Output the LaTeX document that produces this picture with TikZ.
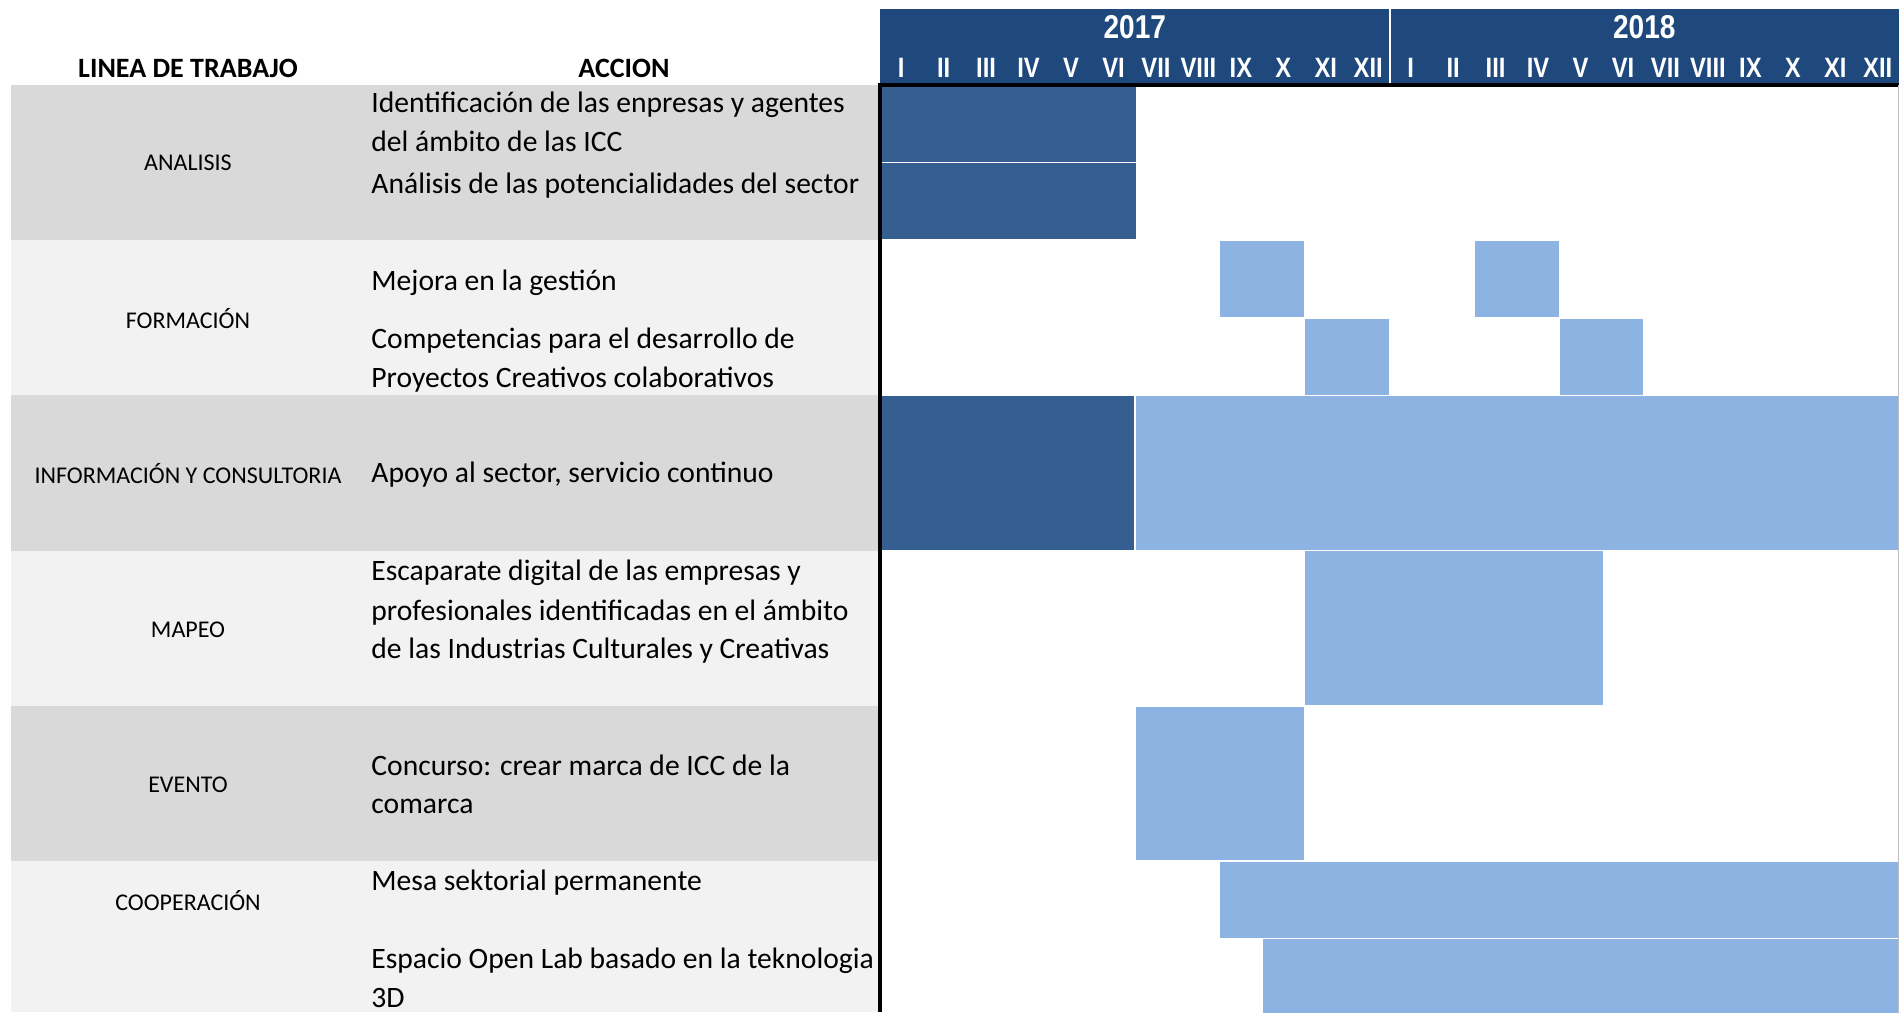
\documentclass[tikz,border=0pt]{standalone}
\usepackage{fontspec}
\setmainfont{Carlito}
\newfontfamily\hdrfont[FakeStretch=0.85]{Liberation Sans}

\definecolor{hdrblue}{HTML}{1F497D}
\definecolor{bardark}{HTML}{365F91}
\definecolor{barlight}{HTML}{8DB3E2}
\definecolor{bandgray}{HTML}{D9D9D9}
\definecolor{bandlight}{HTML}{F2F2F2}

% month -> x, sub-row -> y (pixel units)
\newcommand{\mon}[1]{880+(#1)*42.458}
\newcommand{\rowy}[1]{85+(#1)*77.6}
% style, first month, last month, first sub-row, last sub-row
\newcommand{\gbar}[5]{\path[#1] ({\mon{#2}},{\rowy{#4}}) rectangle ({\mon{#3}},{\rowy{#5}});}

\begin{document}
\begin{tikzpicture}[
    x=0.5pt, y=-0.5pt,
    colhead/.style={font=\fontsize{14}{16}\selectfont\bfseries, inner sep=0pt},
    linea/.style={font=\fontsize{12}{14}\selectfont, inner sep=0pt},
    accion/.style={font=\fontsize{14.8}{17}\selectfont, anchor=base west, inner sep=0pt},
    yearlbl/.style={font=\hdrfont\bfseries\fontsize{16.5}{18}\selectfont, text=white, anchor=base, inner sep=0pt},
    monlbl/.style={font=\hdrfont\bfseries\fontsize{14}{16}\selectfont, text=white, anchor=base, inner sep=0pt},
    darkbar/.style={fill=bardark, draw=white, line width=0.8pt},
    lightbar/.style={fill=barlight, draw=white, line width=0.8pt}
]
\useasboundingbox[fill=white] (0,0) rectangle (1899,1012);

% left bands
\fill[bandgray]  (11,{\rowy{0}}) rectangle ({\mon{0}},{\rowy{2}});
\fill[bandlight] (11,{\rowy{2}}) rectangle ({\mon{0}},{\rowy{4}});
\fill[bandgray]  (11,{\rowy{4}}) rectangle ({\mon{0}},{\rowy{6}});
\fill[bandlight] (11,{\rowy{6}}) rectangle ({\mon{0}},{\rowy{8}});
\fill[bandgray]  (11,{\rowy{8}}) rectangle ({\mon{0}},{\rowy{10}});
\fill[bandlight] (11,{\rowy{10}}) rectangle ({\mon{0}},1012);

% header
\fill[hdrblue] ({\mon{0}},9) rectangle (1899,83);
\draw[white, line width=1pt] ({\mon{12}},9) -- ({\mon{12}},83);
\node[yearlbl] (y2017) at ({\mon{6}},39) {2017};
\node[yearlbl] (y2018) at ({\mon{18}},39) {2018};
\foreach \m [count=\i from 0] in {I,II,III,IV,V,VI,VII,VIII,IX,X,XI,XII} {
  \node[monlbl] (ma\i) at ({\mon{\i+0.5}},77) {\m};
  \node[monlbl] (mb\i) at ({\mon{\i+12.5}},77) {\m};
}

\node[colhead] (linea) at (188,68) {LINEA DE TRABAJO};
\node[colhead] (accion) at (624,68) {ACCION};

% bars
\gbar{darkbar}{0}{6.05}{0}{1}
\gbar{darkbar}{0}{6.05}{1}{2}
\gbar{lightbar}{8}{10}{2}{3}
\gbar{lightbar}{14}{16}{2}{3}
\gbar{lightbar}{10}{12}{3}{4}
\gbar{lightbar}{16}{18}{3}{4}
\gbar{darkbar}{0}{6}{4}{6}
\gbar{lightbar}{6}{24.2}{4}{6}
\gbar{lightbar}{10}{17.05}{6}{8}
\gbar{lightbar}{6}{10}{8}{10}
\gbar{lightbar}{8}{24.2}{10}{11}
\gbar{lightbar}{9}{24.2}{11}{12.2}

% frame
\draw[line width=1.8pt] ({\mon{0}},1012) -- ({\mon{0}},85) -- (1899,85);
\draw[black!25, line width=0.5pt] (1898,85) -- (1898,1012);

% lineas de trabajo
\node[linea] (analisis) at (188,163) {ANALISIS};
\node[linea] (formacion) at (188,319) {FORMACIÓN};
\node[linea] (info) at (188,474) {INFORMACIÓN Y CONSULTORIA};
\node[linea] (mapeo) at (188,630) {MAPEO};
\node[linea] (evento) at (188,785) {EVENTO};
\node[linea] (coop) at (188,901) {COOPERACIÓN};

% acciones
\node[accion] (a1) at (371,112) {Identificación de las enpresas y agentes};
\node[accion] (a2) at (371,151) {del ámbito de las ICC};
\node[accion] (a3) at (371,193) {Análisis de las potencialidades del sector};
\node[accion] (b1) at (371,290) {Mejora en la gestión};
\node[accion] (b2) at (371,348) {Competencias para el desarrollo de};
\node[accion] (b3) at (371,387) {Proyectos Creativos colaborativos};
\node[accion] (c1) at (371,482) {Apoyo al sector, servicio continuo};
\node[accion] (d1) at (371,580) {Escaparate digital de las empresas y};
\node[accion] (d2) at (371,620) {profesionales identificadas en el ámbito};
\node[accion] (d3) at (371,658) {de las Industrias Culturales y Creativas};
\node[accion] (e1) at (371,775) {Concurso: crear marca de ICC de la};
\node[accion] (e2) at (371,813) {comarca};
\node[accion] (f1) at (371,890) {Mesa sektorial permanente};
\node[accion] (f2) at (371,968) {Espacio Open Lab basado en la teknologia};
\node[accion] (f3) at (371,1007) {3D};
\end{tikzpicture}
\end{document}
